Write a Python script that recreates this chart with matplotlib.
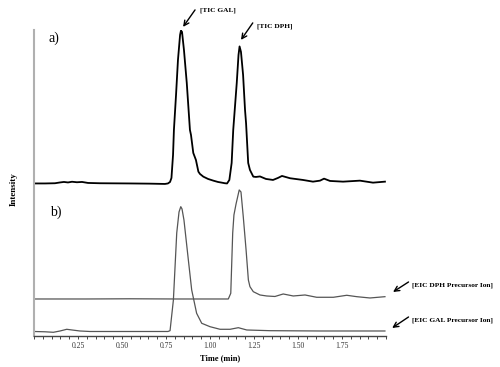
import numpy as np
import matplotlib.pyplot as plt
from matplotlib.ticker import MultipleLocator, FixedLocator

# ----------------------------------------------------
# DATA (time in min, intensity above each trace's own baseline, a.u.)
# ----------------------------------------------------
tic_time = [0.000, 0.063, 0.119, 0.148, 0.170, 0.193, 0.216, 0.244, 0.273, 0.307,
            0.375, 0.545, 0.659, 0.744, 0.761, 0.773, 0.781, 0.790, 0.795, 0.807,
            0.818, 0.830, 0.835, 0.841, 0.852, 0.868, 0.886, 0.892, 0.905, 0.920,
            0.934, 0.943, 0.962, 0.989, 1.019, 1.045, 1.067, 1.085, 1.097, 1.110,
            1.123, 1.132, 1.152, 1.162, 1.168, 1.176, 1.188, 1.199, 1.205, 1.217,
            1.227, 1.246, 1.261, 1.284, 1.318, 1.358, 1.386, 1.409, 1.455, 1.528,
            1.585, 1.625, 1.648, 1.682, 1.756, 1.852, 1.926, 1.994]
tic_int = [0, 0, 0.2, 1.0, 1.5, 1.0, 1.7, 1.2, 1.5, 0.5,
           0.2, 0, -0.2, -0.5, 0, 1.5, 5.5, 28.5, 53.5, 88.5,
           123.5, 148.5, 152.8, 151.5, 133.5, 100.5, 53.5, 48.5, 30.5, 23.5,
           11.8, 9.5, 6.8, 4.5, 2.8, 1.5, 0.8, 0.2, 0, 3.5,
           20.5, 53.5, 100.5, 128.5, 137, 131.5, 108.5, 73.5, 60.0, 20.5,
           13.5, 6.8, 6.5, 7.0, 4.5, 3.5, 5.5, 7.5, 5.2, 3.5,
           1.8, 2.8, 4.8, 2.5, 1.8, 2.8, 0.8, 1.8]

eic_dph_time = [0.000, 0.300, 0.545, 0.800, 1.104, 1.118, 1.129, 1.136, 1.148, 1.166,
                1.176, 1.189, 1.205, 1.218, 1.227, 1.246, 1.284, 1.322, 1.369, 1.416,
                1.473, 1.540, 1.606, 1.701, 1.777, 1.834, 1.909, 1.994]
eic_dph_int = [0, 0, 0.2, 0, 0, 5.7, 66, 84, 95, 109,
               107, 82.3, 49, 19, 12.3, 7.3, 4, 3, 2.5, 5,
               3, 4, 1.7, 1.7, 3.7, 2.3, 1, 2.3]

eic_gal_time = [0.000, 0.063, 0.110, 0.148, 0.186, 0.216, 0.261, 0.318, 0.744, 0.761,
                0.773, 0.792, 0.811, 0.824, 0.834, 0.841, 0.852, 0.877, 0.896, 0.924,
                0.953, 1.000, 1.057, 1.114, 1.161, 1.209, 1.341, 1.625, 1.994]
eic_gal_int = [0, -0.3, -0.8, 0.5, 2.2, 1.5, 0.5, 0, 0, 0,
               0.8, 31.5, 98.5, 119.5, 124.8, 122.5, 111.5, 71.5, 41.5, 18.2,
               8.2, 4.8, 2.2, 2.2, 3.8, 1.5, 0.8, 0.5, 0.5]

tick_labels = ["0.25", "0.50", "0.75", "1.00", "1.25", "1.50", "1.75"]
tick_pos = [0.25, 0.50, 0.75, 1.00, 1.25, 1.50, 1.75]

# vertical stacking of the traces
off_tic, off_dph, off_gal = 152.5, 37, 4.5

plt.rcParams['font.family'] = ['Liberation Serif', 'DejaVu Serif']

fig = plt.figure(figsize=(5, 3.67), dpi=100)
ax = fig.add_axes([0.068, 0.0845, 0.704, 0.834])

ax.plot(tic_time, np.array(tic_int) + off_tic, color='black', lw=1.3)
ax.plot(eic_dph_time, np.array(eic_dph_int) + off_dph, color='#555555', lw=0.9)
ax.plot(eic_gal_time, np.array(eic_gal_int) + off_gal, color='#555555', lw=0.9)

ax.set_xlim(0, 2.0)
ax.set_ylim(0, 306)

for s in ['top', 'right']:
    ax.spines[s].set_visible(False)
ax.spines['left'].set_color('#b0b0b0')
ax.spines['left'].set_linewidth(1.5)
ax.spines['bottom'].set_color('#444444')
ax.spines['bottom'].set_linewidth(1.0)

ax.set_yticks([])
ax.xaxis.set_major_locator(FixedLocator(tick_pos))
ax.set_xticklabels(tick_labels)
ax.xaxis.set_minor_locator(MultipleLocator(0.05))
ax.tick_params(axis='x', which='both', direction='out', length=2.5, width=0.7,
               color='#444444', labelsize=5.5, labelcolor='#333333', pad=2)

ax.set_xlabel("Time (min)", fontsize=6, fontweight='bold')
ax.xaxis.set_label_coords(0.53, -0.06)
ax.set_ylabel("Intensity", fontsize=6.5, fontweight='bold')
ax.yaxis.set_label_coords(-0.045, 0.48)

ax.text(0.085, 298, "a)", fontsize=10, va='center', ha='left')
ax.text(0.091, 123.5, "b)", fontsize=10, va='center', ha='left')

arrow = dict(arrowstyle='->', color='black', lw=1.0, shrinkA=0, shrinkB=0,
             mutation_scale=9)
ax.annotate("", xy=(0.847, 309), xytext=(0.915, 326), arrowprops=arrow, annotation_clip=False)
ax.text(0.943, 326, "[TIC GAL]", fontsize=5.3, fontweight='bold', va='center', ha='left')
ax.annotate("", xy=(1.176, 296), xytext=(1.243, 313), arrowprops=arrow, annotation_clip=False)
ax.text(1.267, 310, "[TIC DPH]", fontsize=5.3, fontweight='bold', va='center', ha='left')
ax.annotate("", xy=(2.040, 44), xytext=(2.128, 54), arrowprops=arrow, annotation_clip=False)
ax.text(2.148, 51, "[EIC DPH Precursor Ion]", fontsize=5.3, fontweight='bold', va='center', ha='left')
ax.annotate("", xy=(2.035, 8), xytext=(2.128, 19), arrowprops=arrow, annotation_clip=False)
ax.text(2.148, 16, "[EIC GAL Precursor Ion]", fontsize=5.3, fontweight='bold', va='center', ha='left')

fig.savefig("out.png", dpi=100)
